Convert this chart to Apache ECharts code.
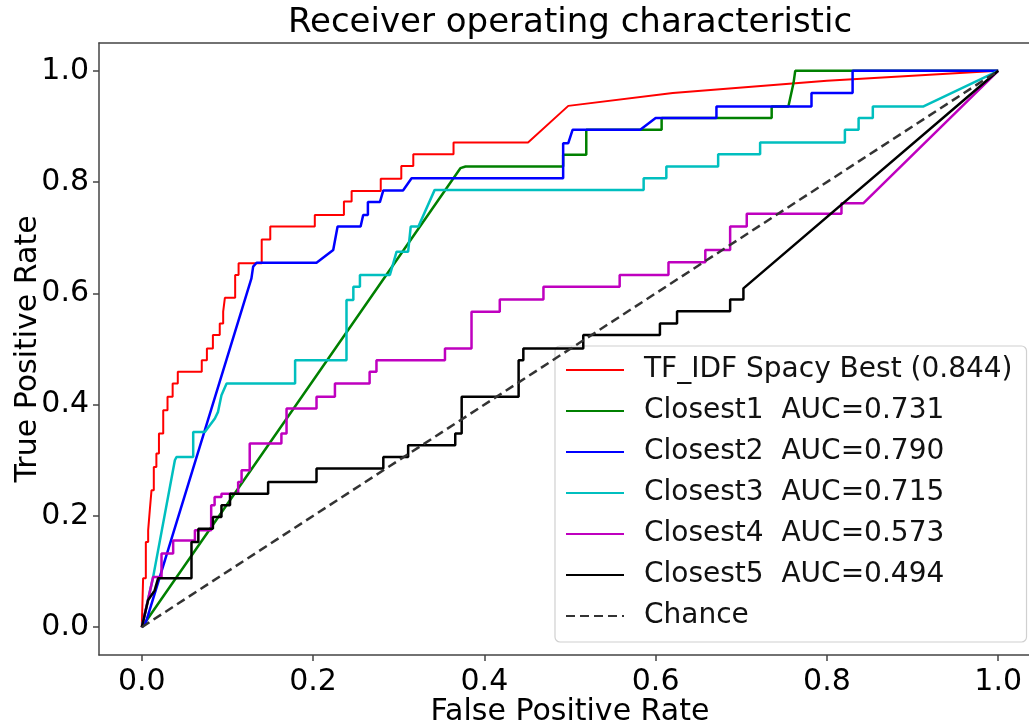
<!DOCTYPE html>
<html>
<head>
    <meta charset="utf-8">
    <title>ROC</title>
    <script src="https://cdn.jsdelivr.net/npm/echarts@6.0.0/dist/echarts.min.js"></script>
    <style>
        html, body {margin: 0; padding: 0; background: #fff;}
        #chart {width: 1029px; height: 721px;}
    </style>
</head>
<body>
<div id="chart"></div>
<script>
    // tick values shown on both axes
    var tickValues = [0, 0.2, 0.4, 0.6, 0.8, 1.0];

    // series names (legend order = draw order)
    var seriesNames = [
        'TF_IDF Spacy Best (0.844)',
        'Closest1  AUC=0.731',
        'Closest2  AUC=0.790',
        'Closest3  AUC=0.715',
        'Closest4  AUC=0.573',
        'Closest5  AUC=0.494',
        'Chance'
    ];

    // [fpr, tpr]
    var tfidfRoc = [[0, 0], [0.0015, 0], [0.0015, 0.088], [0.0047, 0.088], [0.0047, 0.153], [0.0074, 0.153], [0.0074, 0.174],
        [0.0093, 0.174], [0.0093, 0.21], [0.0113, 0.21], [0.0113, 0.246], [0.014, 0.246], [0.014, 0.288], [0.017, 0.288],
        [0.017, 0.312], [0.02, 0.312], [0.02, 0.348], [0.025, 0.348], [0.025, 0.39], [0.03, 0.39], [0.03, 0.414],
        [0.036, 0.414], [0.036, 0.438], [0.042, 0.438], [0.042, 0.459], [0.07, 0.459], [0.07, 0.48], [0.076, 0.48],
        [0.076, 0.501], [0.083, 0.501], [0.083, 0.525], [0.091, 0.525], [0.091, 0.546], [0.095, 0.546], [0.095, 0.567],
        [0.097, 0.567], [0.097, 0.592], [0.109, 0.592], [0.109, 0.633], [0.113, 0.633], [0.113, 0.654], [0.14, 0.654],
        [0.14, 0.697], [0.15, 0.697], [0.15, 0.72], [0.202, 0.72], [0.202, 0.741], [0.236, 0.741], [0.236, 0.765],
        [0.245, 0.765], [0.245, 0.784], [0.279, 0.784], [0.279, 0.806], [0.303, 0.806], [0.303, 0.829], [0.317, 0.829],
        [0.317, 0.85], [0.364, 0.85], [0.364, 0.871], [0.451, 0.871], [0.498, 0.937], [0.62, 0.96], [0.8, 0.982], [1, 1]];

    var closest1Roc = [[0, 0], [0.372, 0.825], [0.378, 0.828], [0.492, 0.828], [0.492, 0.849], [0.519, 0.849],
        [0.519, 0.894], [0.607, 0.894], [0.607, 0.915], [0.7355, 0.915], [0.7355, 0.936], [0.755, 0.936],
        [0.761, 0.978], [0.763, 1], [1, 1]];

    var closest2Roc = [[0, 0], [0.005, 0.01], [0.128, 0.627], [0.13, 0.648], [0.134, 0.655], [0.204, 0.655],
        [0.2235, 0.678], [0.2286, 0.72], [0.2555, 0.72], [0.2585, 0.741], [0.264, 0.741], [0.264, 0.764],
        [0.278, 0.764], [0.282, 0.785], [0.305, 0.785], [0.315, 0.807], [0.492, 0.807], [0.492, 0.87], [0.498, 0.87],
        [0.503, 0.894], [0.582, 0.894], [0.6, 0.915], [0.671, 0.915], [0.671, 0.936], [0.782, 0.936], [0.782, 0.96],
        [0.83, 0.96], [0.83, 1], [1, 1]];

    var closest3Roc = [[0, 0], [0.0132, 0.09], [0.0386, 0.3], [0.0405, 0.306], [0.06, 0.306], [0.06, 0.351],
        [0.0736, 0.351], [0.0853, 0.375], [0.089, 0.387], [0.093, 0.417], [0.099, 0.438], [0.179, 0.438],
        [0.179, 0.48], [0.239, 0.48], [0.239, 0.588], [0.247, 0.588], [0.247, 0.612], [0.2547, 0.612],
        [0.2547, 0.633], [0.2897, 0.633], [0.2975, 0.675], [0.311, 0.675], [0.314, 0.72], [0.323, 0.72],
        [0.342, 0.786], [0.586, 0.786], [0.586, 0.807], [0.6125, 0.807], [0.6125, 0.828], [0.673, 0.828],
        [0.673, 0.85], [0.722, 0.85], [0.722, 0.871], [0.821, 0.871], [0.821, 0.894], [0.837, 0.894],
        [0.837, 0.915], [0.8536, 0.915], [0.8536, 0.936], [0.9128, 0.936], [1, 1]];

    var closest4Roc = [[0, 0], [0.0132, 0.09], [0.023, 0.09], [0.023, 0.1325], [0.0366, 0.1325], [0.0366, 0.156],
        [0.062, 0.156], [0.062, 0.174], [0.081, 0.174], [0.081, 0.219], [0.085, 0.219], [0.085, 0.234],
        [0.093, 0.234], [0.093, 0.24], [0.1125, 0.24], [0.1125, 0.261], [0.1165, 0.261], [0.1165, 0.282],
        [0.126, 0.282], [0.126, 0.33], [0.163, 0.33], [0.163, 0.348], [0.169, 0.348], [0.169, 0.393],
        [0.204, 0.393], [0.204, 0.414], [0.2255, 0.414], [0.2255, 0.438], [0.266, 0.438], [0.266, 0.459],
        [0.274, 0.459], [0.274, 0.48], [0.354, 0.48], [0.354, 0.501], [0.385, 0.501], [0.385, 0.567],
        [0.418, 0.567], [0.418, 0.589], [0.469, 0.589], [0.469, 0.612], [0.558, 0.612], [0.558, 0.633],
        [0.615, 0.633], [0.615, 0.656], [0.658, 0.656], [0.658, 0.678], [0.687, 0.678], [0.687, 0.72],
        [0.7064, 0.72], [0.7064, 0.743], [0.817, 0.743], [0.817, 0.762], [0.8427, 0.762], [1, 1]];

    var closest5Roc = [[0, 0], [0.0074, 0.049], [0.015, 0.066], [0.019, 0.088], [0.058, 0.088], [0.058, 0.153],
        [0.066, 0.153], [0.066, 0.177], [0.083, 0.177], [0.083, 0.198], [0.093, 0.198], [0.093, 0.219],
        [0.103, 0.219], [0.103, 0.24], [0.1475, 0.24], [0.1475, 0.261], [0.204, 0.261], [0.204, 0.285],
        [0.282, 0.285], [0.282, 0.306], [0.311, 0.306], [0.311, 0.327], [0.366, 0.327], [0.366, 0.348],
        [0.3735, 0.348], [0.3735, 0.414], [0.44, 0.414], [0.44, 0.48], [0.4455, 0.48], [0.4455, 0.501],
        [0.5155, 0.501], [0.5155, 0.525], [0.605, 0.525], [0.605, 0.546], [0.625, 0.546], [0.625, 0.568],
        [0.687, 0.568], [0.687, 0.589], [0.7025, 0.589], [0.7025, 0.609], [1, 1]];

    var chanceLine = [[0, 0], [1, 1]];

    var seriesData = [tfidfRoc, closest1Roc, closest2Roc, closest3Roc, closest4Roc, closest5Roc, chanceLine];
    var seriesColors = ['#ff0000', '#008000', '#0000ff', '#00bfbf', '#bf00bf', '#000000', '#333333'];

    var font = 'DejaVu Sans';
    var spine = {show: true, onZero: false, lineStyle: {color: '#444', width: 1.5}};
    var chart = echarts.init(document.getElementById('chart'), null, {renderer: 'canvas'});

    var series = seriesNames.map(function (name, i) {
        return {
            name: name,
            type: 'line',
            data: seriesData[i],
            symbol: 'none',
            clip: false,
            lineStyle: {
                color: seriesColors[i],
                width: i === 0 ? 2 : 2.5,
                type: i === 6 ? [9, 5] : 'solid'
            },
            itemStyle: {color: seriesColors[i]},
            z: 2 + i
        };
    });

    var option = {
        animation: false,
        backgroundColor: '#fff',
        title: {
            text: 'Receiver operating characteristic',
            left: 570,
            top: 6,
            padding: 0,
            textAlign: 'center',
            textStyle: {fontFamily: font, fontSize: 34, fontWeight: 'normal', color: '#000'}
        },
        grid: {
            left: 99, top: 43, width: 942, height: 612,
            outerBoundsMode: 'none', containLabel: false, show: false
        },
        legend: {
            orient: 'vertical',
            left: 555, top: 346,
            padding: [9, 14, 11, 10],
            itemWidth: 58, itemHeight: 14, itemGap: 11,
            selectedMode: false,
            itemStyle: {opacity: 0},
            backgroundColor: 'rgba(255,255,255,0.8)',
            borderColor: '#d0d0d0', borderWidth: 1.2, borderRadius: 5,
            textStyle: {fontFamily: font, fontSize: 28, color: '#111', lineHeight: 30, padding: [0, 0, 0, 15]},
            data: seriesNames
        },
        xAxis: [{
            type: 'value', min: -0.05, max: 1.05, position: 'bottom',
            name: 'False Positive Rate', nameLocation: 'middle', nameGap: 42, nameMoveOverlap: false,
            nameTextStyle: {fontFamily: font, fontSize: 30, color: '#000'},
            axisLine: spine,
            axisTick: {show: true, length: 6, customValues: tickValues, lineStyle: {color: '#444', width: 1.5}},
            axisLabel: {
                customValues: tickValues, margin: 12, fontFamily: font, fontSize: 30, color: '#000',
                formatter: function (v) { return v.toFixed(1); }
            },
            splitLine: {show: false}
        }, {
            // top spine only
            type: 'value', min: -0.05, max: 1.05, position: 'top',
            axisLine: spine, axisTick: {show: false}, axisLabel: {show: false}, splitLine: {show: false}
        }],
        yAxis: {
            type: 'value', min: -0.05, max: 1.05,
            name: 'True Positive Rate', nameLocation: 'middle', nameGap: 56, nameRotate: 90, nameMoveOverlap: false,
            nameTextStyle: {fontFamily: font, fontSize: 30, color: '#000'},
            axisLine: spine,
            axisTick: {show: true, length: 6, customValues: tickValues, lineStyle: {color: '#444', width: 1.5}},
            axisLabel: {
                customValues: tickValues, margin: 10, fontFamily: font, fontSize: 30, color: '#000',
                formatter: function (v) { return v.toFixed(1); }
            },
            splitLine: {show: false}
        },
        series: series
    };

    chart.setOption(option);
</script>
</body>
</html>
